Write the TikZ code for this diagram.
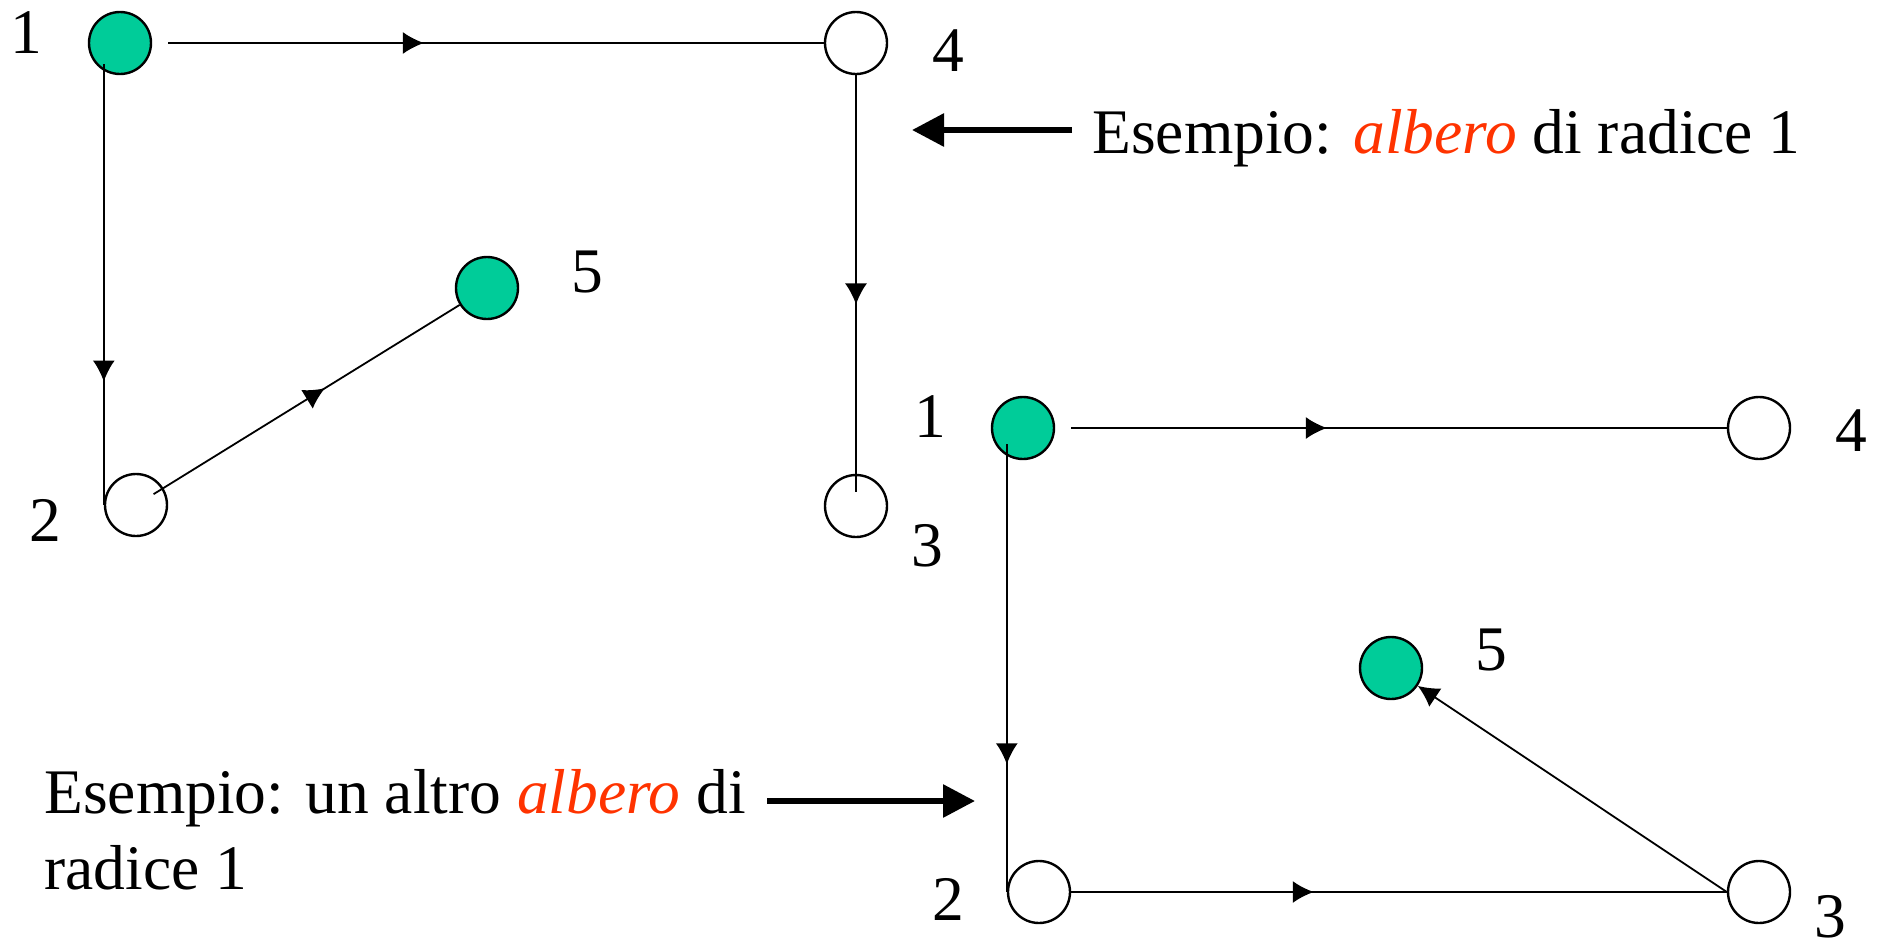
\documentclass[tikz,border=0pt]{standalone}
\usepackage{fontspec}
\setmainfont{Liberation Serif}
\usetikzlibrary{calc,arrows.meta,decorations.markings}
\definecolor{vgreen}{RGB}{0,204,153}
\definecolor{vred}{RGB}{255,51,0}

\tikzset{
  vtx/.style={circle, draw, line width=1.2pt, minimum size=31pt, inner sep=0pt},
  root/.style={vtx, fill=vgreen},
  edge/.style={line width=0.9pt},
  midtip/.style={postaction={decorate}, decoration={markings,
      mark=at position #1 with {\arrow{Latex[length=10.5pt,width=11pt]}}}},
  bigarrow/.style={line width=3pt, -{Triangle[length=16pt,width=16pt]}},
  lbl/.style={inner sep=0pt}
}

\begin{document}
\begin{tikzpicture}[x=0.5pt, y=-0.5pt, every node/.style={font=\fontsize{31.75}{38}\selectfont}]
\useasboundingbox (0,0) rectangle (1881,948);

% first tree
\node[root] (a1) at (120,43) {};
\node[vtx]  (a4) at (856,43) {};
\node[root] (a5) at (487,288) {};
\node[vtx]  (a2) at (136,505) {};
\node[vtx]  (a3) at (856,506) {};

\draw[edge, midtip=0.39] ([xshift=8pt]a1.east) -- (a4.west);
\draw[edge, midtip=0.72] ($(a1.center -| a2.west)+(0,21)$) -- (a2.west);
\draw[edge, midtip=0.55] (a4.south) -- ($(a3.center)+(0,-14)$);
\draw[edge, midtip=0.56] ($(a2.center)!0.05!(a5.center)$) -- (a5);

\node[lbl] at ($(a1)+(-94,-10)$) {1};
\node[lbl] at ($(a4)+(92,8)$) {4};
\node[lbl] at ($(a5)+(100,-16)$) {5};
\node[lbl] at ($(a2)+(-91,15)$) {2};
\node[lbl] at ($(a3)+(71,40)$) {3};

% second tree
\node[root] (b1) at (1023,428) {};
\node[vtx]  (b4) at (1759,428) {};
\node[root] (b5) at (1391,668) {};
\node[vtx]  (b2) at (1039,892) {};
\node[vtx]  (b3) at (1759,892) {};

\draw[edge, midtip=0.39] ([xshift=8pt]b1.east) -- (b4.west);
\draw[edge, midtip=0.715] ($(b1.center -| b2.west)+(0,16)$) -- (b2.west);
\draw[edge, midtip=0.37] (b2.east) -- (b3.west);
\draw[edge, -{Latex[length=10.5pt,width=11pt]}] (b3.west) -- (b5);

\node[lbl] at ($(b1)+(-93,-11)$) {1};
\node[lbl] at ($(b4)+(92,3)$) {4};
\node[lbl] at ($(b5)+(100,-18)$) {5};
\node[lbl] at ($(b2)+(-91,7)$) {2};
\node[lbl] at ($(b3)+(71,25)$) {3};

% captions
\node[lbl, anchor=base west] (t1) at (1092,153)
  {Esempio: \textcolor{vred}{\itshape albero} di radice 1};
\node[lbl, anchor=north west, align=left] (t2) at (44,769)
  {Esempio: un altro \textcolor{vred}{\itshape albero} di\\radice 1};

\coordinate (g1) at (912,130);
\draw[bigarrow] ($(t1.west |- g1)+(-20,0)$) -- (g1);
\coordinate (g2) at (975,801);
\draw[bigarrow] ($(t2.east |- g2)+(21,0)$) -- (g2);
\end{tikzpicture}
\end{document}
